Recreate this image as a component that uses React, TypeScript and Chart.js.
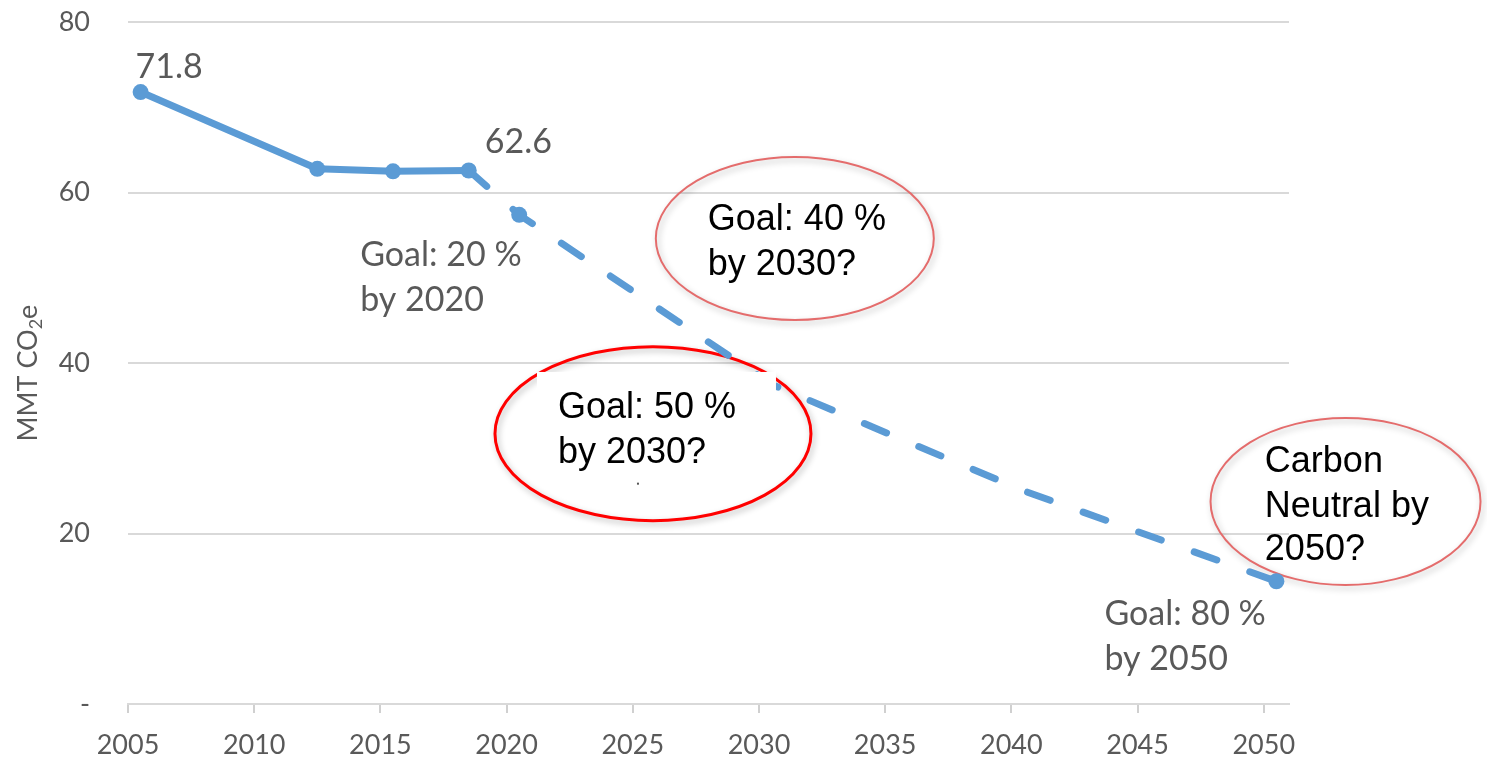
import React, { useEffect, useRef } from "react";
import { Chart, registerables } from "chart.js";

Chart.register(...registerables);

// ---- Data ----
const histYears = [2005.5, 2012.5, 2015.5, 2018.5];
const histValues = [71.8, 62.8, 62.5, 62.6];

const goalYears = [2018.5, 2020.5, 2030.5, 2040.5, 2050.5];
const goalValues = [62.6, 57.4, 37.5, 25.0, 14.4];
const goalMarkers = [false, true, false, false, true];

const xTickYears = [2005, 2010, 2015, 2020, 2025, 2030, 2035, 2040, 2045, 2050];
const yTickValues = [0, 20, 40, 60, 80];
const yTickLabels = ["-", "20", "40", "60", "80"];

const yTitleParts = ["MMT CO", "2", "e"];

// value labels anchored to data points (offsets in px)
const valueLabelTexts = ["71.8", "62.6"];
const valueLabelYears = [2005.5, 2018.5];
const valueLabelValues = [71.8, 62.6];
const valueLabelOffsets = [[-5, -14], [16, -17]];

// grey goal notes anchored to data points
const noteLines = [["Goal: 20 %", "by 2020"], ["Goal: 80 %", "by 2050"]];
const noteYears = [2020.5, 2050.5];
const noteValues = [57.4, 14.4];
const noteDx = [-159, -172];
const noteDy = [[51, 96], [44, 89]];

// red callout ellipses (centres in data units)
const calloutLines = [["Goal: 40 %", "by 2030?"], ["Goal: 50 %", "by 2030?"], ["Carbon", "Neutral by", "2050?"]];
const calloutYears = [2031.42, 2025.8, 2053.24];
const calloutValues = [54.62, 31.72, 23.76];

const BLUE = "#5B9BD5";
const GREY = "#595959";
const TICK_FONT = { family: "Lato", size: 27 };

type Geo = { rx: number; ry: number; color: string; width: number; dx: number; dy: number[]; mask?: number[] };
const calloutGeo: Geo[] = [
  { rx: 139, ry: 81.5, color: "#E46C6C", width: 2, dx: -87, dy: [-8.5, 36.5] },
  { rx: 158, ry: 87, color: "#FF0000", width: 3, dx: -95, dy: [-15.7, 29.3], mask: [-116, -61.7, 123, 51.3] },
  { rx: 135, ry: 83.5, color: "#E46C6C", width: 2, dx: -80.7, dy: [-29.8, 15.2, 58.5] },
];

const calloutPlugin = {
  id: "callouts",
  beforeDatasetsDraw(chart: any) {
    const ctx = chart.ctx;
    const xs = chart.scales.x;
    const ys = chart.scales.y;
    calloutGeo.forEach((g, i) => {
      const cx = xs.getPixelForValue(calloutYears[i]);
      const cy = ys.getPixelForValue(calloutValues[i]);
      ctx.save();
      ctx.shadowColor = "rgba(0,0,0,0.28)";
      ctx.shadowBlur = 6;
      ctx.shadowOffsetX = 2;
      ctx.shadowOffsetY = 3;
      ctx.strokeStyle = g.color;
      ctx.lineWidth = g.width;
      ctx.beginPath();
      ctx.ellipse(cx, cy, g.rx, g.ry, 0, 0, Math.PI * 2);
      ctx.stroke();
      ctx.restore();
    });
  },
  afterDatasetsDraw(chart: any) {
    const ctx = chart.ctx;
    const xs = chart.scales.x;
    const ys = chart.scales.y;
    calloutGeo.forEach((g, i) => {
      const cx = xs.getPixelForValue(calloutYears[i]);
      const cy = ys.getPixelForValue(calloutValues[i]);
      ctx.save();
      if (g.mask) {
        ctx.fillStyle = "#ffffff";
        ctx.fillRect(cx + g.mask[0], cy + g.mask[1], g.mask[2] - g.mask[0], g.mask[3] - g.mask[1]);
        ctx.fillStyle = "#555555";
        ctx.fillRect(cx - 16, cy + 49, 2, 2);
      }
      ctx.fillStyle = "#000000";
      ctx.font = '36px "Liberation Sans"';
      ctx.textAlign = "left";
      ctx.textBaseline = "alphabetic";
      calloutLines[i].forEach((t, k) => ctx.fillText(t, cx + g.dx, cy + g.dy[k]));
      ctx.restore();
    });
    ctx.save();
    ctx.fillStyle = GREY;
    ctx.font = "34px Lato";
    ctx.textAlign = "left";
    ctx.textBaseline = "alphabetic";
    valueLabelTexts.forEach((t, i) => {
      const px = xs.getPixelForValue(valueLabelYears[i]);
      const py = ys.getPixelForValue(valueLabelValues[i]);
      ctx.fillText(t, px + valueLabelOffsets[i][0], py + valueLabelOffsets[i][1]);
    });
    noteLines.forEach((lines, i) => {
      const px = xs.getPixelForValue(noteYears[i]);
      const py = ys.getPixelForValue(noteValues[i]);
      lines.forEach((t, k) => ctx.fillText(t, px + noteDx[i], py + noteDy[i][k]));
    });
    ctx.restore();
  },
  afterDraw(chart: any) {
    const ctx = chart.ctx;
    const area = chart.chartArea;
    const cy = (area.top + area.bottom) / 2 + 10;
    ctx.save();
    ctx.fillStyle = GREY;
    ctx.translate(37, cy);
    ctx.rotate(-Math.PI / 2);
    ctx.textBaseline = "alphabetic";
    ctx.textAlign = "left";
    const big = "27px Lato";
    const small = "18px Lato";
    ctx.font = big;
    const w0 = ctx.measureText(yTitleParts[0]).width;
    const w2 = ctx.measureText(yTitleParts[2]).width;
    ctx.font = small;
    const w1 = ctx.measureText(yTitleParts[1]).width;
    let x = -(w0 + w1 + w2) / 2;
    ctx.font = big;
    ctx.fillText(yTitleParts[0], x, 0);
    x += w0;
    ctx.font = small;
    ctx.fillText(yTitleParts[1], x, 5);
    x += w1;
    ctx.font = big;
    ctx.fillText(yTitleParts[2], x, 0);
    ctx.restore();
  },
};

export default function App() {
  const ref = useRef<HTMLCanvasElement | null>(null);
  useEffect(() => {
    if (!ref.current) return;
    const chart = new Chart(ref.current, {
      type: "line",
      data: {
        datasets: [
          {
            label: "Emissions",
            data: histYears.map((x, i) => ({ x, y: histValues[i] })),
            borderColor: BLUE,
            backgroundColor: BLUE,
            borderWidth: 7,
            borderCapStyle: "round",
            borderJoinStyle: "round",
            pointRadius: 8,
            pointBackgroundColor: BLUE,
            pointBorderWidth: 0,
            tension: 0,
          },
          {
            label: "Goals",
            data: goalYears.map((x, i) => ({ x, y: goalValues[i] })),
            borderColor: BLUE,
            backgroundColor: BLUE,
            borderWidth: 7,
            borderDash: [24, 35],
            borderCapStyle: "round",
            borderJoinStyle: "round",
            pointRadius: goalMarkers.map((m) => (m ? 8 : 0)),
            pointBackgroundColor: BLUE,
            pointBorderWidth: 0,
            tension: 0,
          },
        ],
      },
      options: {
        animation: false,
        responsive: false,
        devicePixelRatio: 1,
        layout: { padding: { top: 22, right: 198, bottom: 0, left: 0 } },
        plugins: { legend: { display: false }, tooltip: { enabled: false } },
        scales: {
          x: {
            type: "linear",
            min: 2005,
            max: 2051,
            afterBuildTicks: (s: any) => {
              s.ticks = xTickYears.map((v) => ({ value: v }));
            },
            afterFit: (s: any) => {
              s.height = 55;
            },
            ticks: {
              font: TICK_FONT,
              color: GREY,
              padding: 16,
              maxRotation: 0,
              autoSkip: false,
              callback: (v: any) => String(v),
            },
            grid: { drawOnChartArea: false, drawTicks: true, tickLength: 9, color: "#d0d0d0", lineWidth: 2 },
            border: { display: true, color: "#d9d9d9", width: 2 },
          },
          y: {
            type: "linear",
            min: 0,
            max: 80,
            afterBuildTicks: (s: any) => {
              s.ticks = yTickValues.map((v) => ({ value: v }));
            },
            afterFit: (s: any) => {
              s.width = 128;
            },
            ticks: {
              font: TICK_FONT,
              color: GREY,
              padding: 6,
              callback: (v: any) => yTickLabels[yTickValues.indexOf(Number(v))] ?? String(v),
            },
            grid: { color: "#d9d9d9", lineWidth: 2, drawTicks: true, tickLength: 32, tickColor: "rgba(0,0,0,0)" },
            border: { display: false },
          },
        },
      },
      plugins: [calloutPlugin],
    } as any);
    return () => chart.destroy();
  }, []);
  return (
    <div style={{ position: "fixed", left: 0, top: 0, width: 1487, height: 759, background: "#fff" }}>
      <canvas ref={ref} width={1487} height={759} style={{ width: 1487, height: 759, display: "block" }} />
    </div>
  );
}
